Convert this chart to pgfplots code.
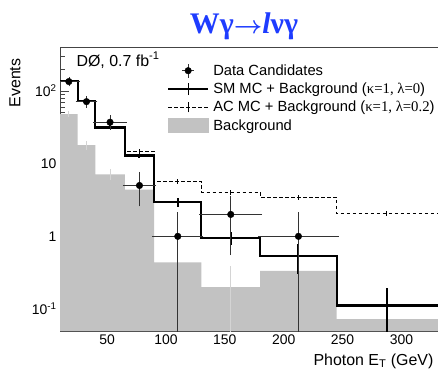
\documentclass[border=0pt]{standalone}
\usepackage{pgfplots}
\pgfplotsset{compat=1.18}
\usepackage{fontspec}
\setmainfont{Liberation Sans}
\newfontfamily\seriff{Liberation Serif}
\definecolor{bkg}{HTML}{C2C2C2}
\definecolor{bkgerr}{HTML}{D4D4D4}
\definecolor{titleblue}{HTML}{1E3CFF}
\definecolor{frame}{HTML}{444444}
\pgfplotsset{mcerr/.style={draw=none, mark=none, forget plot,
  error bars/.cd, y dir=both, y explicit,
  error mark options={draw=none, fill=none, mark size=0pt},
  error bar style={#1}}}
\begin{document}
\begin{tikzpicture}[x=1bp,y=1bp]
\begin{axis}[
  at={(60bp,39bp)}, anchor=south west,
  scale only axis, width=390bp, height=284bp,
  xmin=10, xmax=341.2, ymin=0.05, ymax=400,
  ymode=log, log origin y=infty,
  axis line style={frame, line width=0.8pt},
  tick pos=left, tick align=inside,
  major tick length=9bp, minor tick length=4.5bp,
  tick style={frame, line width=0.6pt},
  xtick={50,100,150,200,250,300},
  xticklabels={50,100,150,200,250,300},
  minor xtick={10,20,30,40,60,70,80,90,110,120,130,140,160,170,180,190,210,220,230,240,260,270,280,290,310,320,330,340},
  ytick={0.1,1,10,100},
  yticklabels={10\textsuperscript{-1},1,10,10\textsuperscript{2}},
  minor ytick={0.05,0.06,0.07,0.08,0.09,0.2,0.3,0.4,0.5,0.6,0.7,0.8,0.9,2,3,4,5,6,7,8,9,20,30,40,50,60,70,80,90,200,300,400},
  tick label style={font=\fontsize{14}{16}\selectfont},
  legend style={at={(axis description cs:0.274,0.943)}, anchor=north west,
    draw=none, fill=none, inner sep=0pt, row sep=4bp,
    font=\fontsize{14.8}{17}\selectfont, cells={anchor=west},
    nodes={inner xsep=4bp, inner ysep=1bp}},
]
% Background histogram
\addplot[ybar interval, fill=bkg, draw=none, forget plot] coordinates {
  (10,48) (25,18) (40,7.1) (65,4.4) (90,0.44) (130,0.2) (180,0.335) (245,0.073) (345,0.073)};
\addplot[mcerr={line width=1bp, draw=bkgerr}] coordinates {
  (17.5,48) +- (0,5) (32.5,18) +- (0,2.5) (52.5,7.1) +- (0,1.2) (77.5,4.4) +- (0,0.8)
  (110,0.44) +- (0,0.12) (155,0.2) +- (0,0.19) (212.5,0.335) +- (0,0.1) (287.5,0.073) +- (0,0.03)};
% AC MC + background
\addplot[const plot, black, line width=1.1bp, dash pattern=on 3.5bp off 2.5bp, forget plot] coordinates {
  (10,138) (25,73) (40,32) (65,14.7) (90,5.67) (130,4.05) (180,3.45) (245,2.05) (345,2.05)};
\addplot[mcerr={line width=1.1bp, draw=black, solid}] coordinates {
  (52.5,32) +- (0,1.5) (77.5,14.7) +- (0,1.0) (110,5.67) +- (0,0.4) (155,4.05) +- (0,0.3)
  (212.5,3.45) +- (0,0.25) (287.5,2.05) +- (0,0.15)};
% SM MC + background
\addplot[const plot, black, line width=2.2bp, forget plot] coordinates {
  (10,138) (25,73) (40,31.4) (65,12.9) (90,2.95) (130,0.96) (180,0.54) (245,0.112) (345,0.112)};
\addplot[mcerr={line width=2bp, draw=black, solid}] coordinates {
  (17.5,138) +- (0,4) (32.5,73) +- (0,3) (52.5,31.4) +- (0,1.8) (77.5,12.9) +- (0,0.8)
  (110,2.95) +- (0,0.4) (155,0.96) +- (0,0.2) (212.5,0.54) +- (0,0.24) (287.5,0.112) +- (0,0.08)};
% Data
\addplot[only marks, mark=*, mark size=3.3bp, black, forget plot,
  error bars/.cd, x dir=both, x explicit, y dir=both, y explicit,
  error bar style={line width=0.6bp, black!80},
  error mark options={line width=0.6bp, black!80, mark size=2bp}] coordinates {
  (17.5,134) += (7.5,11.6) -= (7.5,11.6)
  (32.5,71) += (7.5,8.4) -= (7.5,8.4)
  (52.5,37) += (12.5,6.1) -= (12.5,6.1)
  (77.5,5) += (12.5,2.24) -= (12.5,2.24)
  (110,1) += (20,1) -= (20,0.99)
  (155,2) += (25,1.41) -= (25,1.41)
  (212.5,1) += (32.5,1) -= (32.5,0.99)};
% Legend
\addlegendimage{legend image code/.code={
  \draw[black!80, line width=0.6bp] (20bp,-7bp) -- (20bp,7bp);
  \draw[black!80, line width=0.6bp] (14bp,0bp) -- (26bp,0bp);
  \fill[black] (20bp,0bp) circle (3.3bp);}}
\addlegendentry{Data Candidates}
\addlegendimage{legend image code/.code={
  \draw[black, line width=2.2bp] (0bp,0bp) -- (40bp,0bp);
  \draw[black, line width=1.2bp] (20bp,-6bp) -- (20bp,6bp);}}
\addlegendentry{SM MC + Background ({\seriff κ=1, λ=0})}
\addlegendimage{legend image code/.code={
  \draw[black, line width=1.1bp, dash pattern=on 3.5bp off 2.5bp] (0bp,0bp) -- (40bp,0bp);
  \draw[black, line width=0.8bp] (20bp,-5bp) -- (20bp,5bp);}}
\addlegendentry{AC MC + Background ({\seriff κ=1, λ=0.2})}
\addlegendimage{legend image code/.code={
  \fill[bkg] (0bp,-7bp) rectangle (40bp,7bp);}}
\addlegendentry{Background}
\end{axis}
\node[anchor=base, text=titleblue, font=\seriff\bfseries\fontsize{30}{32}\selectfont] at (244,337) {Wγ{\boldmath$\rightarrow$}\textit{l}νγ};
\node[anchor=base west, font=\fontsize{16}{18}\selectfont] at (73,304) {DØ, 0.7 fb\textsuperscript{-1}};
\node[rotate=90, font=\fontsize{16}{18}\selectfont] at (15,287) {Events};
\node[anchor=base west, font=\fontsize{16}{18}\selectfont] at (310,5) {Photon E\textsubscript{T} (GeV)};
\pgfresetboundingbox
\useasboundingbox (0,0) rectangle (438,370);
\end{tikzpicture}
\end{document}
